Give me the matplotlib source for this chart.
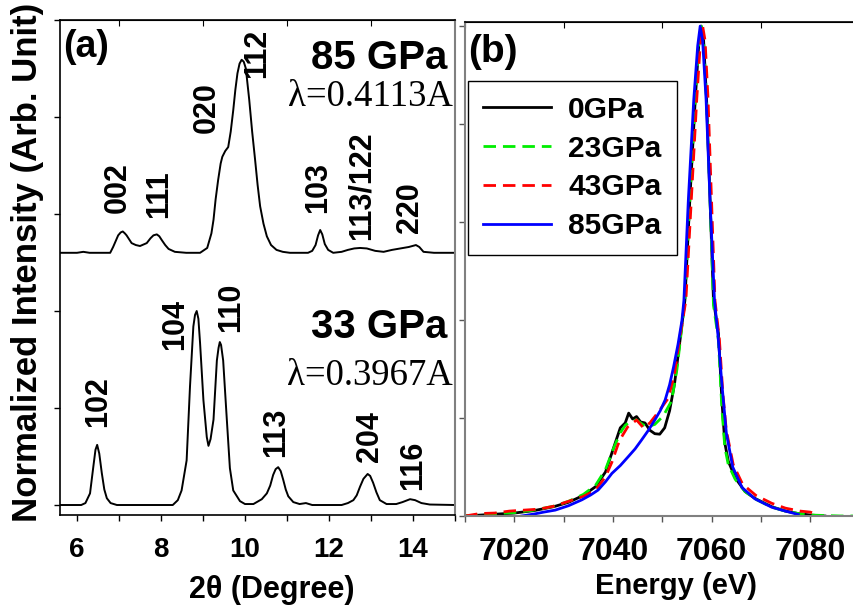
import matplotlib
matplotlib.use("Agg")
import matplotlib.pyplot as plt
from matplotlib.ticker import MultipleLocator, FixedLocator

# ---------------- data: panel (a) XRD ----------------
two_theta_33 = [5.6, 6.0, 6.1, 6.2, 6.31, 6.39, 6.44, 6.48, 6.53, 6.59, 6.65, 6.71, 6.8, 6.95,
                8.0, 8.28, 8.4, 8.49, 8.61, 8.69, 8.77, 8.81, 8.85, 8.89, 8.93, 9.01, 9.09,
                9.13, 9.18, 9.25, 9.33, 9.37, 9.40, 9.43, 9.48, 9.56, 9.64, 9.72, 9.88, 10.0,
                10.2, 10.28, 10.4, 10.52, 10.6, 10.67, 10.73, 10.79, 10.85, 10.91, 10.97,
                11.03, 11.15, 11.3, 11.45, 11.6, 12.3, 12.45, 12.58, 12.66, 12.74, 12.82,
                12.92, 12.98, 13.05, 13.13, 13.21, 13.37, 13.6, 13.75, 13.93, 14.05, 14.2,
                14.4, 15.0]
intensity_33 = [0.0, 0.0, 0.0, 0.02, 0.12, 0.40, 0.57, 0.62, 0.53, 0.33, 0.16, 0.07, 0.02, 0.0,
                0.0, 0.0, 0.05, 0.15, 0.46, 1.22, 1.84, 1.96, 2.0, 1.92, 1.67, 1.08, 0.70,
                0.61, 0.68, 0.88, 1.49, 1.62, 1.68, 1.65, 1.49, 0.93, 0.38, 0.15, 0.04, 0.01,
                0.01, 0.03, 0.06, 0.12, 0.2, 0.31, 0.37, 0.39, 0.35, 0.26, 0.16,
                0.09, 0.03, 0.01, 0.02, 0.0, 0.0, 0.02, 0.05, 0.1, 0.19, 0.27,
                0.32, 0.3, 0.23, 0.13, 0.05, 0.01, 0.01, 0.03, 0.06, 0.05, 0.02,
                0.005, 0.0]

two_theta_85 = [5.6, 6.0, 6.15, 6.3, 6.7, 6.79, 6.86, 6.92, 6.98, 7.04, 7.09, 7.14, 7.18,
                7.3, 7.4, 7.5, 7.66, 7.75, 7.82, 7.9, 7.96, 8.02, 8.1, 8.18, 8.33, 8.6,
                8.93, 9.1, 9.2, 9.25, 9.3, 9.36, 9.42, 9.46, 9.53, 9.6, 9.66, 9.72, 9.77,
                9.82, 9.87, 9.92, 9.97, 10.02, 10.1, 10.17, 10.24, 10.3, 10.36, 10.44,
                10.52, 10.62, 10.75, 10.9, 11.07, 11.5, 11.6, 11.68, 11.74, 11.79, 11.84,
                11.9, 11.98, 12.1, 12.3, 12.45, 12.6, 12.74, 12.9, 13.1, 13.3, 13.5, 13.7,
                13.9, 14.07, 14.15, 14.25, 14.5, 15.0]
intensity_85 = [0.0, 0.0, 0.01, 0.0, 0.0, 0.0, 0.06, 0.12, 0.18, 0.21, 0.22, 0.2, 0.18,
                0.10, 0.08, 0.07, 0.10, 0.15, 0.18, 0.19, 0.17, 0.13, 0.08, 0.04, 0.01, 0.0,
                0.0, 0.05, 0.2, 0.34, 0.55, 0.75, 0.92, 0.99, 1.05, 1.09, 1.25, 1.47, 1.68,
                1.85, 1.95, 1.99, 1.97, 1.9, 1.58, 1.25, 0.96, 0.7, 0.48, 0.3,
                0.17, 0.08, 0.03, 0.01, 0.0, 0.0, 0.02, 0.08, 0.18, 0.235, 0.19,
                0.09, 0.03, 0.0, 0.01, 0.03, 0.045, 0.05, 0.045, 0.02, 0.01, 0.03, 0.045,
                0.06, 0.08, 0.06, 0.01, 0.0, 0.0]
offset_85 = 2.6

hkl_85 = ["002", "111", "020", "112", "103", "113/122", "220"]
hkl_85_x = [6.98, 7.95, 9.09, 10.28, 11.75, 12.78, 13.93]
hkl_85_y = [3.01, 2.96, 3.84, 4.40, 3.01, 2.73, 2.80]
hkl_33 = ["102", "104", "110", "113", "204", "116"]
hkl_33_x = [6.51, 8.33, 9.68, 10.75, 12.98, 14.0]
hkl_33_y = [0.80, 1.60, 1.78, 0.49, 0.44, 0.15]

# ---------------- data: panel (b) XANES ----------------
e_0 = [7010, 7015, 7020, 7024, 7028, 7031, 7034, 7036.5, 7038.5, 7040, 7041.5, 7042.5, 7043.2,
       7044, 7044.8, 7045.6, 7046.5, 7047.5, 7048.5, 7049.5, 7050.5, 7051.5, 7052.5, 7053.5,
       7054.6, 7055.6, 7056.7, 7057.4, 7057.9, 7058.4, 7059.0, 7059.7, 7060.4, 7061.4, 7062.1,
       7062.7, 7063.4, 7064.8, 7066.8, 7068.8, 7072.2, 7075, 7077.6, 7080, 7083]
mu_0 = [0.0, 0.003, 0.006, 0.011, 0.019, 0.028, 0.042, 0.06, 0.09, 0.135, 0.18, 0.19, 0.21,
        0.198, 0.203, 0.192, 0.19, 0.175, 0.168, 0.167, 0.18, 0.215, 0.27, 0.35,
        0.44, 0.645, 0.85, 0.96, 1.0, 0.97, 0.85, 0.645, 0.44, 0.373, 0.237,
        0.149, 0.112, 0.078, 0.05, 0.036, 0.019, 0.01, 0.005, 0.002, 0.0]

e_23 = [7010, 7015, 7020, 7024, 7028, 7031, 7034, 7036.5, 7038.5, 7040, 7041.5, 7042.5, 7043.5,
        7044.8, 7046, 7047, 7048.5, 7050.2, 7051.9, 7053, 7054.6, 7055.6, 7056.7, 7057.4,
        7057.9, 7058.4, 7059.0, 7059.7, 7060.4, 7061.4, 7062.1, 7062.7, 7063.4, 7064.8,
        7066.8, 7068.8, 7072.2, 7075, 7077.6, 7080, 7083, 7086, 7089]
mu_23 = [0.0, 0.004, 0.007, 0.012, 0.02, 0.03, 0.044, 0.063, 0.095, 0.135, 0.17, 0.185, 0.193,
         0.196, 0.187, 0.182, 0.187, 0.204, 0.235, 0.3, 0.44, 0.645, 0.85, 0.96,
         1.0, 0.97, 0.85, 0.645, 0.43, 0.36, 0.22, 0.14, 0.105, 0.075,
         0.05, 0.035, 0.018, 0.01, 0.005, 0.002, 0.001, 0.0, 0.0]

e_43 = [7010, 7013, 7016, 7019, 7022, 7025, 7028, 7031, 7034, 7036.4, 7038.5, 7039.8, 7041,
        7041.8, 7043, 7044.8, 7046.2, 7047.5, 7049.2, 7051.2, 7052.5, 7053.5, 7054.8, 7055.9,
        7057, 7057.7, 7058.2, 7058.7, 7059.3, 7060.0, 7060.7, 7061.6, 7062.3, 7063, 7064.4,
        7066.3, 7069, 7072.2, 7075, 7078, 7080, 7081.5]
mu_43 = [0.0, 0.005, 0.006, 0.01, 0.012, 0.014, 0.02, 0.03, 0.04, 0.052, 0.08, 0.11, 0.145,
         0.162, 0.182, 0.196, 0.18, 0.19, 0.212, 0.24, 0.29, 0.36, 0.44, 0.645,
         0.85, 0.96, 1.0, 0.97, 0.85, 0.645, 0.44, 0.36, 0.25, 0.175, 0.105,
         0.065, 0.042, 0.026, 0.016, 0.01, 0.008, 0.003]

e_85 = [7021.5, 7024, 7026, 7028.3, 7031, 7033.7, 7035.5, 7037, 7038.5, 7039.8, 7041.5, 7043.1,
        7044.5, 7045.8, 7047.2, 7048.5, 7049.6, 7050.6, 7051.5, 7052.3, 7053.2, 7054.0, 7054.4,
        7055.3, 7056.4, 7057.2, 7057.7, 7058.2, 7058.9, 7059.7, 7060.6, 7061.3, 7062.1, 7063.0,
        7064.3, 7066.2, 7068.8, 7072.2, 7075, 7077.6]
mu_85 = [0.0, 0.004, 0.008, 0.012, 0.021, 0.033, 0.043, 0.053, 0.07, 0.087, 0.103, 0.121,
         0.137, 0.155, 0.175, 0.196, 0.215, 0.237, 0.268, 0.304, 0.35, 0.399, 0.44,
         0.645, 0.85, 0.96, 1.0, 0.97, 0.85, 0.645, 0.44, 0.37, 0.27, 0.17,
         0.10, 0.058, 0.035, 0.018, 0.01, 0.003]

xanes_labels = ["0GPa", "23GPa", "43GPa", "85GPa"]
xanes_colors = ["black", "#00ee00", "#ff0000", "#0000ff"]

# ---------------- style ----------------
plt.rcParams['font.family'] = ['Liberation Sans', 'DejaVu Sans']
plt.rcParams['font.weight'] = 'bold'
plt.rcParams['lines.scale_dashes'] = False
GRAY = '#808080'

W, H = 854, 610
fig = plt.figure(figsize=(W / 100, H / 100), dpi=100)

def frac(l, t, r, b):
    return [l / W, 1 - b / H, (r - l) / W, (b - t) / H]

# ---------------- panel (a) ----------------
axa = fig.add_axes(frac(60, 20, 455, 515))
axa.plot(two_theta_33, intensity_33, color='black', lw=1.4)
axa.plot(two_theta_85, [v + offset_85 for v in intensity_85], color='black', lw=1.4)
axa.set_xlim(5.595, 15.0)
axa.set_ylim(-0.103, 5.0)
axa.xaxis.set_major_locator(MultipleLocator(2))
axa.xaxis.set_minor_locator(MultipleLocator(1))
axa.yaxis.set_major_locator(MultipleLocator(1))
axa.set_yticklabels([])
axa.tick_params(axis='x', which='both', direction='out', length=4, width=1,
                labelsize=20, pad=12, top=False)
axa.tick_params(axis='y', which='major', direction='out', length=4, width=1, right=False)
for lab in axa.get_xticklabels():
    lab.set_fontweight('bold')
axa.spines['right'].set_color(GRAY)
axa.spines['right'].set_linewidth(1.5)
for s in ['left', 'bottom', 'top']:
    axa.spines[s].set_linewidth(1.2)
seca = axa.secondary_xaxis('top')
seca.xaxis.set_major_locator(FixedLocator([7, 9, 11, 13]))
seca.tick_params(direction='in', length=4, labeltop=False)

for t, x, y in zip(hkl_85, hkl_85_x, hkl_85_y):
    axa.text(x, y, t, rotation=90, ha='center', va='bottom', fontsize=22, fontweight='bold')
for t, x, y in zip(hkl_33, hkl_33_x, hkl_33_y):
    axa.text(x, y, t, rotation=90, ha='center', va='bottom', fontsize=22, fontweight='bold')

axa.text(5.67, 4.62, "(a)", ha='left', va='baseline', fontsize=27, fontweight='bold')
axa.text(14.83, 4.50, "85 GPa", ha='right', va='baseline', fontsize=29, fontweight='bold')
axa.text(14.95, 4.11, "λ=0.4113A", ha='right', va='baseline', fontsize=26.5,
         fontweight='normal', family=['Liberation Serif', 'DejaVu Serif'])
axa.text(14.83, 1.72, "33 GPa", ha='right', va='baseline', fontsize=29, fontweight='bold')
axa.text(14.95, 1.237, "λ=0.3967A", ha='right', va='baseline', fontsize=26.5,
         fontweight='normal', family=['Liberation Serif', 'DejaVu Serif'])

fig.text(28 / W, 1 - 262 / H, "Normalized Intensity (Arb. Unit)", rotation=90,
         ha='center', va='center', fontsize=25, fontweight='bold')
fig.text(272 / W, 1 - 590 / H, "2θ (Degree)", ha='center', va='center',
         fontsize=22, fontweight='bold')

# ---------------- panel (b) ----------------
axb = fig.add_axes(frac(465, 21.7, 854, 516))
series = [(e_0, mu_0, '-'), (e_23, mu_23, '--'), (e_43, mu_43, '--'), (e_85, mu_85, '-')]
for (ex, mu, ls), lab, col in zip(series, xanes_labels, xanes_colors):
    line, = axb.plot(ex, mu, color=col, lw=2.0, label=lab, linestyle=ls)
    if ls == '--':
        line.set_dashes((9, 5))
axb.set_xlim(7010, 7088.9)
axb.set_ylim(0, 1.009)
axb.xaxis.set_major_locator(MultipleLocator(20))
axb.xaxis.set_minor_locator(FixedLocator([7010, 7030, 7050, 7070]))
axb.yaxis.set_major_locator(MultipleLocator(0.2))
axb.set_yticklabels([])
axb.tick_params(axis='x', which='both', direction='out', length=4, width=1,
                labelsize=23, pad=11, top=False, color='#555555')
axb.tick_params(axis='y', which='major', direction='out', length=4, width=1,
                right=False, color='#555555')
for lab in axb.get_xticklabels():
    lab.set_fontweight('bold')
axb.spines['right'].set_visible(False)
axb.spines['left'].set_color(GRAY)
axb.spines['bottom'].set_color(GRAY)
axb.spines['left'].set_linewidth(1.5)
axb.spines['bottom'].set_linewidth(1.5)
axb.spines['top'].set_linewidth(1.2)
secb = axb.secondary_xaxis('top')
secb.xaxis.set_major_locator(FixedLocator([7010, 7030, 7050, 7070]))
secb.tick_params(direction='in', length=4, labeltop=False)

axb.text(0.008, 0.919, "(b)", transform=axb.transAxes, ha='left', va='baseline',
         fontsize=28, fontweight='bold')
leg = axb.legend(loc='upper left', bbox_to_anchor=(0.007, 0.880), borderaxespad=0,
                 handlelength=2.3, handletextpad=0.57, labelspacing=0.36,
                 borderpad=0.5, fancybox=False, framealpha=1,
                 prop={'weight': 'bold', 'size': 21.5})
leg.get_frame().set_edgecolor('black')
leg.get_frame().set_linewidth(1.0)

fig.text(676 / W, 1 - 586 / H, "Energy (eV)", ha='center', va='center',
         fontsize=21, fontweight='bold')

fig.savefig("out.png", dpi=100)
